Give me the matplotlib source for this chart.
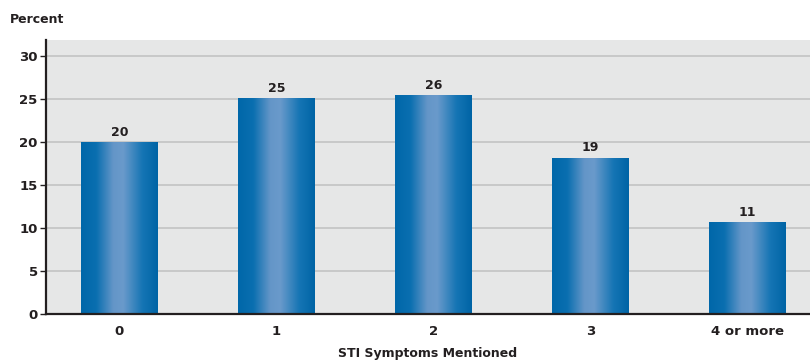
import numpy as np
import matplotlib.pyplot as plt
from matplotlib.colors import LinearSegmentedColormap

# ── Data ──────────────────────────────────────────────────────────────────────

CATEGORIES = ["0", "1", "2", "3", "4 or more"]
VALUES     = [20.0, 25.1, 25.5, 18.2, 10.7]
LABELS     = ["20", "25", "26", "19", "11"]
Y_TICKS    = [0, 5, 10, 15, 20, 25, 30]

# ── Style ─────────────────────────────────────────────────────────────────────

BG     = "#e6e7e7"
GRID   = "#c2c3c3"
INK    = "#231f20"
BAR_CM = LinearSegmentedColormap.from_list(
    "bar", [(0.0, "#0067a9"), (0.2, "#0a6fb0"), (0.42, "#6496c8"),
            (0.55, "#6a9acb"), (0.8, "#1575b4"), (1.0, "#0064a5")])

plt.rcParams["font.family"] = ["DejaVu Sans"]
plt.rcParams["font.weight"] = "bold"

fig = plt.figure(figsize=(8.1, 3.61), dpi=100)
ax = fig.add_axes([0.0568, 0.130, 0.9432, 0.759])
ax.set_facecolor(BG)

x = np.arange(len(CATEGORIES))
bars = ax.bar(x, VALUES, width=0.49, color="none", zorder=2)

# gradient fill clipped to each bar
grad = np.linspace(0, 1, 256).reshape(1, -1)
for b in bars:
    x0, w, h = b.get_x(), b.get_width(), b.get_height()
    im = ax.imshow(grad, cmap=BAR_CM, aspect="auto", zorder=2,
                   extent=(x0, x0 + w, 0, h), interpolation="bicubic")
    im.set_clip_path(b)

for xi, v, lab in zip(x, VALUES, LABELS):
    ax.text(xi, v + 0.4, lab, ha="center", va="bottom",
            fontsize=9, fontweight="bold", color=INK)

ax.set_xlim(-0.468, 4.40)
ax.set_ylim(0, 31.9)
ax.set_yticks(Y_TICKS)
ax.set_xticks(x)
ax.set_xticklabels(CATEGORIES)
ax.yaxis.grid(True, color=GRID, lw=1.2, zorder=0)
ax.set_axisbelow(True)

for s in ["top", "right"]:
    ax.spines[s].set_visible(False)
for s in ["left", "bottom"]:
    ax.spines[s].set_color(INK)
    ax.spines[s].set_linewidth(1.6)

ax.tick_params(axis="y", length=4, width=1, color=INK, labelsize=9.5,
               labelcolor=INK, pad=2)
ax.tick_params(axis="x", length=0, labelsize=9.5, labelcolor=INK, pad=8)

ax.set_xlabel("STI Symptoms Mentioned", fontsize=9, fontweight="bold",
              color=INK, labelpad=6)
fig.text(0.012, 0.945, "Percent", fontsize=9, fontweight="bold",
         color=INK, ha="left", va="center")

fig.savefig("out.png", dpi=100)
